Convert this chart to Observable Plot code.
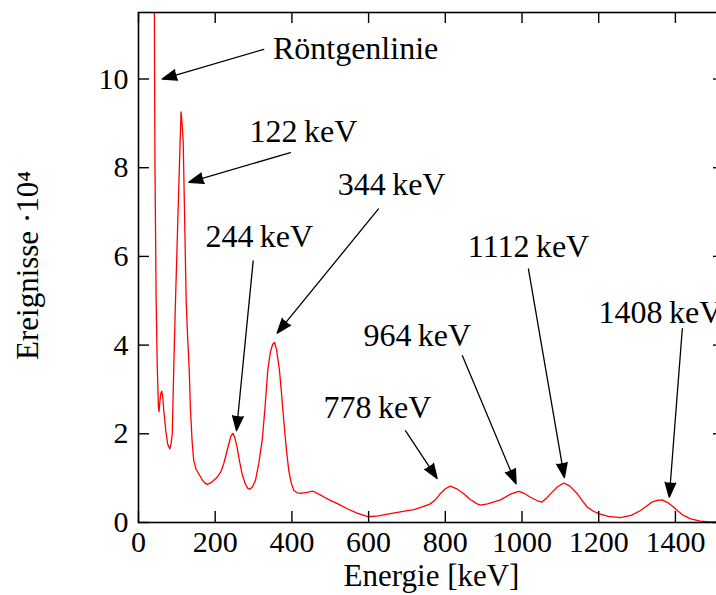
<!DOCTYPE html>
<html><head><meta charset="utf-8">
<script src="https://cdn.jsdelivr.net/npm/d3@7"></script>
<script src="https://cdn.jsdelivr.net/npm/@observablehq/plot@0.6"></script>
<style>
body{margin:0;background:#fff;overflow:hidden}
#chart svg{overflow:hidden;display:block}
</style>
</head><body><div id="chart"></div>
<script>
// Spectrum (energy in keV, events / 10^4)
const energy = [40.5,42,43,44.5,46,49,52,53.5,56,58.5,60.7,63,66,71,76,81.5,85,88,92,96.5,100,104,108.6,111,113.5,116.5,120,124.3,128,132,135.6,140,144,150,157,165,172,179,190,205,215,222,229,235.4,241,246,251,257,263,270,278,285,290,297,305,314,322.5,330,337,344,350,354.5,360,367.6,373,378.8,385,391.8,398,405,414,425,440,450,457,470,485,500,520,544,570,598,625,657,690,718,740,761,775,787,800,813,830,848,865,883,892,910,944,970,991,1005,1022,1040,1052,1065,1078,1092,1109,1125,1144,1158,1170,1185,1200,1225,1256,1285,1309,1325,1339,1352,1365,1380,1395,1408,1421,1440,1465,1490,1510,1530];
const counts = [14,10,8,6.5,5.0,3.5,2.6,2.5,2.75,2.92,2.96,2.85,2.52,2.08,1.77,1.66,1.78,2.0,3.5,5.0,6.05,7.25,8.6,9.26,9.0,8.6,7.0,5.0,4.2,3.5,2.52,1.8,1.4,1.2,1.1,0.98,0.9,0.86,0.9,1.02,1.15,1.32,1.55,1.77,1.95,2.01,1.92,1.70,1.40,1.10,0.88,0.77,0.75,0.80,0.95,1.35,1.85,2.6,3.43,3.85,4.02,4.06,3.9,3.43,2.9,2.30,1.7,1.17,0.9,0.72,0.67,0.66,0.68,0.70,0.70,0.64,0.57,0.50,0.42,0.31,0.21,0.13,0.15,0.20,0.25,0.29,0.35,0.42,0.52,0.65,0.76,0.82,0.76,0.65,0.52,0.42,0.39,0.42,0.51,0.64,0.70,0.66,0.57,0.49,0.46,0.56,0.68,0.80,0.89,0.82,0.65,0.48,0.35,0.26,0.20,0.14,0.11,0.16,0.27,0.37,0.46,0.50,0.51,0.45,0.35,0.25,0.16,0.08,0.03,0.015,0.01,0.01];

const xTicks = [0,200,400,600,800,1000,1200,1400];
const yTicks = [0,2,4,6,8,10];

// Annotations
const annLabels = ["Röntgenlinie","122\u2009keV","244\u2009keV","344\u2009keV","778\u2009keV","964\u2009keV","1112\u2009keV","1408\u2009keV"];
const annX = [566,430,315,660,623,727,1017,1361];
const annY = [10.69,8.81,6.44,7.62,2.59,4.22,6.22,4.73];
const arrowFromX = [326.7,396,299,625.7,696,844.6,1016.7,1418];
const arrowFromY = [10.67,8.34,5.9,7.07,2.07,3.76,5.72,4.37];
const arrowToX = [61.8,131,255.5,361.5,778.7,984.6,1110.5,1384];
const arrowToY = [10.0,7.67,2.07,4.27,0.99,0.87,1.01,0.57];

const spectrum = energy.map((e,i)=>({e, c: counts[i]}));
const labels = annLabels.map((t,i)=>({t, x: annX[i], y: annY[i]}));
const arrows = arrowFromX.map((x,i)=>({x1: x, y1: arrowFromY[i], x2: arrowToX[i], y2: arrowToY[i]}));

const W = 716, H = 595;
const mL = 138, mR = -8, mT = 12, mB = 73;
const fw = W - mL - mR, fh = H - mT - mB;
const tk = 11;

const chart = Plot.plot({
  width: W, height: H,
  marginLeft: mL, marginRight: mR, marginTop: mT, marginBottom: mB,
  style: {fontFamily: "'Liberation Serif', serif", background: "#fff", color: "#000"},
  x: {domain: [0, 1528]},
  y: {domain: [0, 11.5]},
  marks: [
    Plot.line(spectrum, {x: "e", y: "c", stroke: "#ff0000", strokeWidth: 1.3, clip: true}),
    Plot.ruleX(xTicks, {insetTop: fh - tk, stroke: "#000", strokeWidth: 1.4}),
    Plot.ruleX(xTicks, {insetBottom: fh - tk, stroke: "#000", strokeWidth: 1.4}),
    Plot.ruleY(yTicks, {insetRight: fw - tk, stroke: "#000", strokeWidth: 1.4}),
    Plot.ruleY(yTicks, {insetLeft: fw - tk, stroke: "#000", strokeWidth: 1.4}),
    Plot.frame({stroke: "#000", strokeWidth: 1.6}),
    Plot.axisX({ticks: xTicks, tickSize: 0, tickPadding: 8, fontSize: 30, label: null, tickFormat: d => String(d)}),
    Plot.axisY({ticks: yTicks, tickSize: 0, tickPadding: 10, fontSize: 30, label: null, tickFormat: d => String(d)}),
    Plot.text(["Energie [keV]"], {frameAnchor: "bottom", dy: 63, fontSize: 31}),
    Plot.text(["Ereignisse \u00b710\u2074"], {frameAnchor: "left", textAnchor: "middle", dx: -110, dy: -2, rotate: -90, fontSize: 31}),
    Plot.arrow(arrows, {x1: "x1", y1: "y1", x2: "x2", y2: "y2", stroke: "#000", fill: "#000", strokeWidth: 1.3, headLength: 18, headAngle: 40, clip: false}),
    Plot.text(labels, {x: "x", y: "y", text: "t", fontSize: 32, fill: "#000"})
  ]
});
document.getElementById("chart").appendChild(chart);
</script>
</body></html>
